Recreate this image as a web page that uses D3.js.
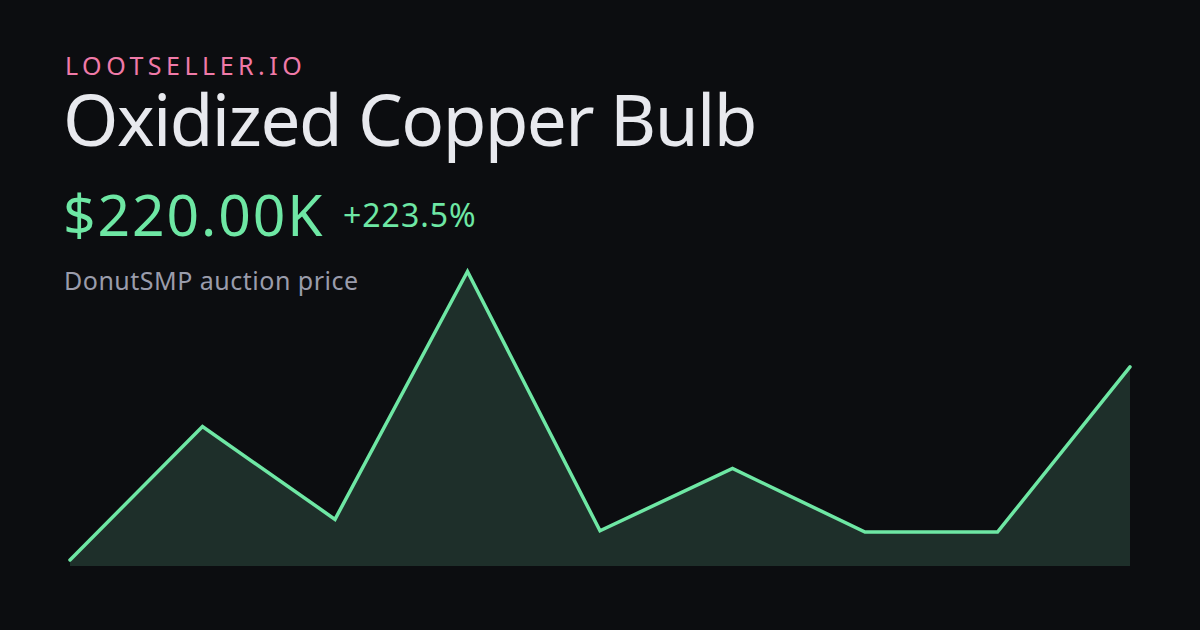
<!DOCTYPE html>
<html><head><meta charset="utf-8">
<script src="https://cdn.jsdelivr.net/npm/d3@7"></script>
<style>
html,body{margin:0;padding:0;background:#0c0d10;}
svg{display:block;}
</style></head>
<body>
<svg id="c" width="1200" height="630"></svg>
<script>
const brand = "LOOTSELLER.IO";
const title = "Oxidized Copper Bulb";
const priceLabel = "$220.00K";
const changeLabel = "+223.5%";
const subtitle = "DonutSMP auction price";
const points = [0,1,2,3,4,5,6,7,8];
const prices = [68, 173, 100, 295, 91, 140, 90, 90, 220];

const svg = d3.select("#c");
svg.append("rect").attr("width",1200).attr("height",630).attr("fill","#0c0d10");

const font = "'Noto Sans', 'Open Sans', sans-serif";
svg.append("text").attr("x",65).attr("y",74.5).text(brand)
  .attr("font-family",font).attr("font-size",25).attr("letter-spacing",4.5).attr("fill","#f07aa8");
svg.append("text").attr("x",63).attr("y",146).text(title)
  .attr("font-family",font).attr("font-size",71).attr("letter-spacing",-1.55).attr("fill","#e8e9ee");
svg.append("text").attr("x",63).attr("y",236).text(priceLabel)
  .attr("font-family",font).attr("font-size",57).attr("letter-spacing",1.9).attr("fill","#6ee7a4");
svg.append("text").attr("x",343).attr("y",226.5).text(changeLabel)
  .attr("font-family",font).attr("font-size",32).attr("letter-spacing",1).attr("fill","#6ee7a4");
svg.append("text").attr("x",64).attr("y",289.5).text(subtitle)
  .attr("font-family",font).attr("font-size",25).attr("letter-spacing",0.5).attr("fill","#9a9cab");

const x = d3.scaleLinear().domain([0, points.length-1]).range([70, 1130]);
const y = d3.scaleLinear().domain([d3.min(prices), d3.max(prices)]).range([560, 271.5]);
const base = 566;

const area = d3.area().x((d,i)=>x(points[i])).y0(base).y1(d=>y(d));
const line = d3.line().x((d,i)=>x(points[i])).y(d=>y(d));

svg.append("path").datum(prices).attr("d",area).attr("fill","#1e2f2a");
svg.append("path").datum(prices).attr("d",line).attr("fill","none")
  .attr("stroke","#6ee7a4").attr("stroke-width",3.5).attr("stroke-linejoin","miter").attr("stroke-linecap","round");
</script>
</body></html>
